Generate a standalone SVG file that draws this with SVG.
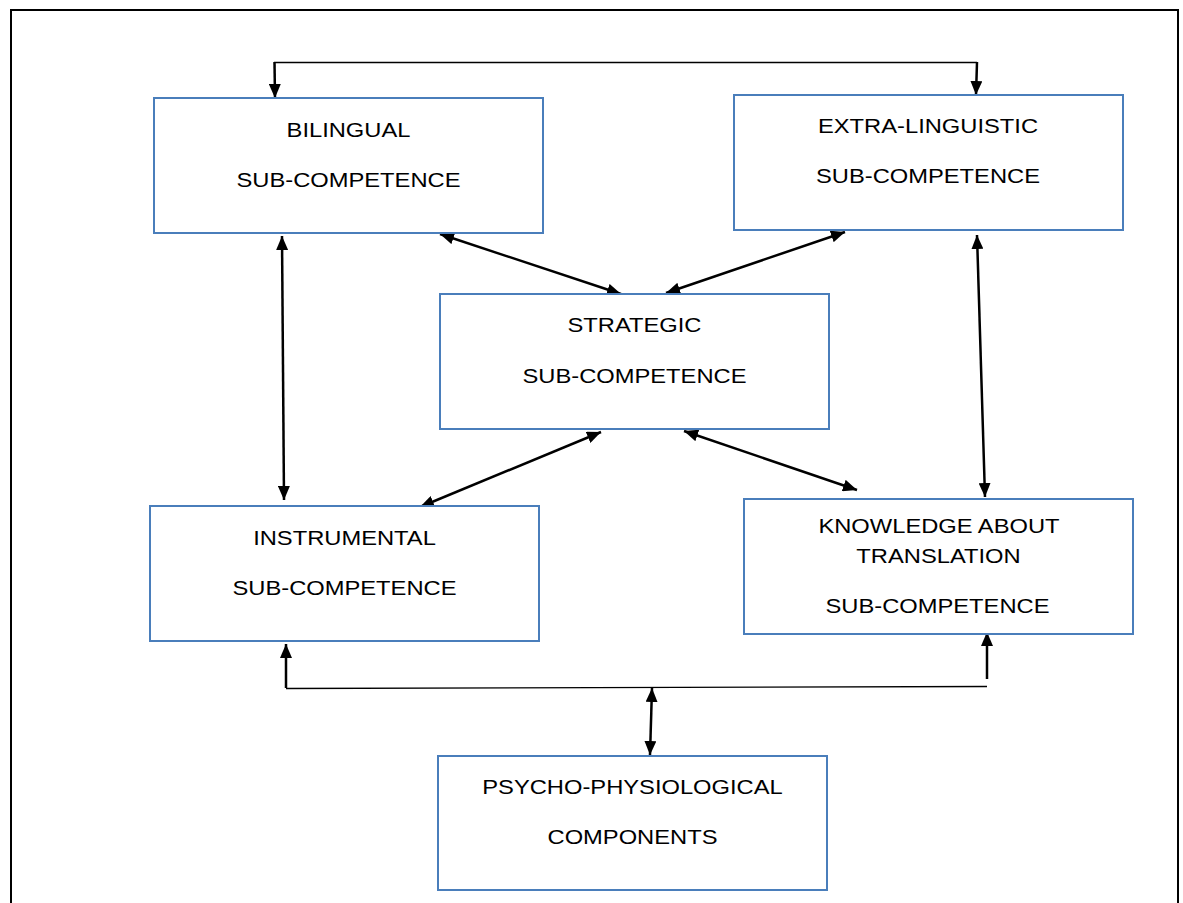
<svg xmlns="http://www.w3.org/2000/svg" width="1183" height="903" viewBox="0 0 1183 903">
<style>
.box{fill:#fff;stroke:#4a7ebb;stroke-width:2}
.t{font-family:"Liberation Sans",Arial,sans-serif;font-size:21px;fill:#000;text-anchor:middle}
.c{stroke:#000;stroke-width:2.5;fill:none}
.thin{stroke:#000;stroke-width:1.3;fill:none}
</style>
<defs>
<marker id="ah" viewBox="0 0 14 12" refX="14" refY="6" markerWidth="14" markerHeight="12" markerUnits="userSpaceOnUse" orient="auto-start-reverse">
<path d="M0,0 L14,6 L0,12 z" fill="#000"/>
</marker>
</defs>
<rect width="1183" height="903" fill="#fff"/>
<path d="M11,903 V10 H1178 V903" fill="none" stroke="#000" stroke-width="2"/>
<g id="connectors">
<path class="thin" d="M274,62.5 H977"/>
<line class="c" x1="274.5" y1="62" x2="275" y2="98" marker-end="url(#ah)"/>
<line class="c" x1="977" y1="62" x2="976" y2="95" marker-end="url(#ah)"/>
<line class="c" x1="282" y1="236" x2="284" y2="500" marker-start="url(#ah)" marker-end="url(#ah)"/>
<line class="c" x1="977" y1="235" x2="985" y2="497" marker-start="url(#ah)" marker-end="url(#ah)"/>
<line class="c" x1="440" y1="234" x2="621" y2="294" marker-start="url(#ah)" marker-end="url(#ah)"/>
<line class="c" x1="845" y1="232" x2="666" y2="293" marker-start="url(#ah)" marker-end="url(#ah)"/>
<line class="c" x1="601" y1="432" x2="420" y2="507" marker-start="url(#ah)" marker-end="url(#ah)"/>
<line class="c" x1="684" y1="431" x2="857" y2="490" marker-start="url(#ah)" marker-end="url(#ah)"/>
<path class="thin" d="M286,688.5 L987,686.5"/>
<line class="c" x1="286" y1="688" x2="286" y2="644" marker-end="url(#ah)"/>
<line class="c" x1="987" y1="679" x2="987" y2="632" marker-end="url(#ah)"/>
<line class="c" x1="652" y1="688" x2="650" y2="755" marker-start="url(#ah)" marker-end="url(#ah)"/>
</g>
<g id="bilingual">
<rect class="box" x="154" y="98" width="389" height="135"/>
<text class="t" transform="translate(348.5,137) scale(1.13,1)">BILINGUAL</text>
<text class="t" transform="translate(348.5,187) scale(1.13,1)">SUB-COMPETENCE</text>
</g>
<g id="extralinguistic">
<rect class="box" x="734" y="95" width="389" height="135"/>
<text class="t" transform="translate(928,133) scale(1.13,1)">EXTRA-LINGUISTIC</text>
<text class="t" transform="translate(928,183) scale(1.13,1)">SUB-COMPETENCE</text>
</g>
<g id="strategic">
<rect class="box" x="440" y="294" width="389" height="135"/>
<text class="t" transform="translate(634.5,332) scale(1.13,1)">STRATEGIC</text>
<text class="t" transform="translate(634.5,383) scale(1.13,1)">SUB-COMPETENCE</text>
</g>
<g id="instrumental">
<rect class="box" x="150" y="506" width="389" height="135"/>
<text class="t" transform="translate(344.5,545) scale(1.13,1)">INSTRUMENTAL</text>
<text class="t" transform="translate(344.5,595) scale(1.13,1)">SUB-COMPETENCE</text>
</g>
<g id="knowledge">
<rect class="box" x="744" y="499" width="389" height="135"/>
<text class="t" transform="translate(939,533) scale(1.13,1)">KNOWLEDGE ABOUT</text>
<text class="t" transform="translate(938.5,563) scale(1.13,1)">TRANSLATION</text>
<text class="t" transform="translate(937.5,613) scale(1.13,1)">SUB-COMPETENCE</text>
</g>
<g id="psycho">
<rect class="box" x="438" y="756" width="389" height="134"/>
<text class="t" transform="translate(632.5,794) scale(1.13,1)">PSYCHO-PHYSIOLOGICAL</text>
<text class="t" transform="translate(632.5,844) scale(1.13,1)">COMPONENTS</text>
</g>
</svg>
